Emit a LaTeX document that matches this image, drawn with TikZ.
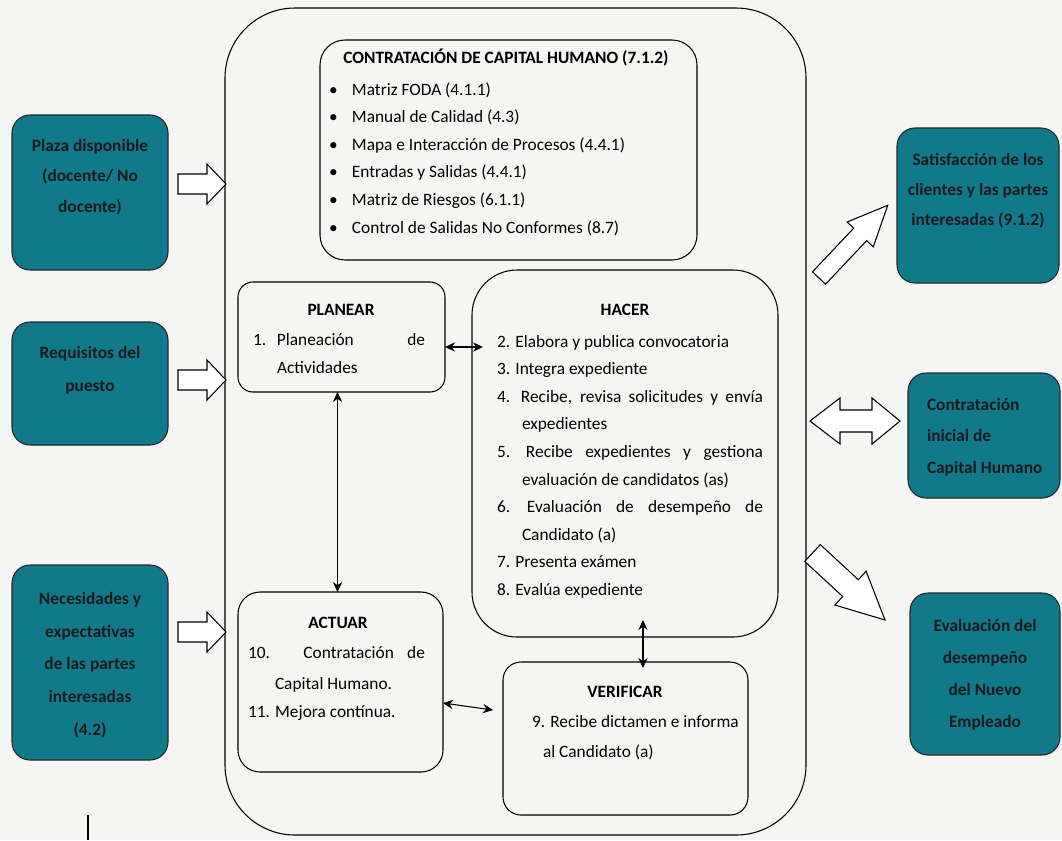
\documentclass[tikz,border=0pt]{standalone}
\usepackage{fontspec}
\setmainfont{Carlito}
\usetikzlibrary{arrows.meta,calc}
\newlength\px \setlength\px{0.75pt}
\definecolor{tealone}{RGB}{16,122,138}
\definecolor{paper}{RGB}{245,245,243}
\begin{document}
\begin{tikzpicture}[x=0.75pt,y=-0.75pt,
  every node/.style={inner sep=0pt, outer sep=0pt},
  frame/.style={draw=black, line width=0.8pt},
  tealbox/.style={draw=black!85, line width=0.8pt, fill=tealone, rounded corners=13.5pt},
  body/.style={font=\fontsize{13}{20}\selectfont, anchor=base west},
  ttl/.style={font=\fontsize{13}{20}\selectfont\bfseries, anchor=base},
  side/.style={font=\fontsize{13}{23}\selectfont\bfseries, align=center, text=black!90},
  link/.style={{Stealth[length=7.5pt,width=7pt]}-{Stealth[length=7.5pt,width=7pt]}, line width=0.8pt},
  blockarrow/.style={draw=black, line width=0.8pt, fill=white, line join=miter}
]
\useasboundingbox (0,0) rectangle (1062,840);
\fill[paper] (0,0) rectangle (1062,840);

% frames
\node[frame, rounded corners=52.5pt, minimum width=435.75pt, minimum height=620.25pt] (outer) at (515.5,421.5) {};
\node[frame, rounded corners=18.75pt, minimum width=282.75pt, minimum height=165pt] (top) at (508.5,150) {};
\node[frame, rounded corners=11.25pt, minimum width=155.25pt, minimum height=82.5pt] (planear) at (341.5,337) {};
\node[frame, rounded corners=33.75pt, minimum width=229.5pt, minimum height=275.25pt] (hacer) at (625,453.5) {};
\node[frame, rounded corners=16.5pt, minimum width=153.75pt, minimum height=135pt] (actuar) at (340.5,682) {};
\node[frame, rounded corners=13.5pt, minimum width=183.75pt, minimum height=114.75pt] (verificar) at (625.5,738.5) {};

% top box text
\node[ttl] (toptitle) at (506,63) {CONTRATACIÓN DE CAPITAL HUMANO (7.1.2)};
\foreach \t [count=\i] in {Matriz FODA (4.1.1),Manual de Calidad (4.3),Mapa e Interacción de Procesos (4.4.1),Entradas y Salidas (4.4.1),Matriz de Riesgos (6.1.1),Control de Salidas No Conformes (8.7)}{
  \node[body] (bul\i) at (329,{95+27.6*(\i-1)}) {\makebox[23\px][l]{•}\t};
}

% planear
\node[ttl] (planeart) at (341,315) {PLANEAR};
\node[body] (p1) at (253,345) {\makebox[172\px]{\makebox[24\px][l]{1.}Planeación\hfill de}};
\node[body] (p1b) at (277,373) {Actividades};

% hacer
\node[ttl] (hacert) at (625,315) {HACER};
\node[body] (h2) at (497,347) {2. Elabora y publica convocatoria};
\node[body] (h3) at (497,374.6) {3. Integra expediente};
\node[body] (h4) at (497,402.2) {\makebox[266\px][s]{\makebox[24\px][l]{4.}Recibe, revisa solicitudes y envía}};
\node[body] (h4b) at (522,429.8) {expedientes};
\node[body] (h5) at (497,457.4) {\makebox[266\px][s]{\makebox[29\px][l]{5.}Recibe expedientes y gestiona}};
\node[body] (h5b) at (522,485) {evaluación de candidatos (as)};
\node[body] (h6) at (497,512.6) {\makebox[266\px][s]{\makebox[30\px][l]{6.}Evaluación de desempeño de}};
\node[body] (h6b) at (522,540.2) {Candidato (a)};
\node[body] (h7) at (497,567.8) {7. Presenta exámen};
\node[body] (h8) at (497,595.4) {8. Evalúa expediente};

% actuar
\node[ttl] (actuart) at (338,628) {ACTUAR};
\node[body] (a10) at (248,658) {\makebox[177\px][s]{10. Contratación de}};
\node[body] (a10b) at (275,689) {Capital Humano.};
\node[body] (a11) at (248,717) {11. Mejora contínua.};

% verificar
\node[ttl] (verificart) at (625,697) {VERIFICAR};
\node[body] (v9) at (532,727) {9. Recibe dictamen e informa};
\node[body] (v9b) at (543,757) {al Candidato (a)};

% inner links
\draw[link] (planear.east |- 0,347) -- ($(hacer.west |- 0,347)+(11,0)$);
\draw[link] ($(planear.south)+(-4,0)$) -- ($(planear.south |- actuar.north)+(-4,0)$);
\draw[link] ($(hacer.south)+(18,-17)$) -- ($(verificar.north)+(17.5,6)$);
\draw[link] (actuar.east |- 0,703) -- ($(verificar.west)+(-10,-28.5)$);

% teal boxes left
\node[tealbox, minimum width=117pt, minimum height=116.25pt] (plaza) at (90,192.5) {};
\node[side] (plazat) at (90,177) {Plaza disponible\\(docente/ No\\docente)};
\node[tealbox, minimum width=117pt, minimum height=92.25pt] (requisitos) at (90,383.5) {};
\node[side, font=\fontsize{13}{24.5}\selectfont\bfseries] (requisitost) at (90,370) {Requisitos del\\puesto};
\node[tealbox, minimum width=117pt, minimum height=146.25pt] (necesidades) at (90,662.5) {};
\node[side, font=\fontsize{13}{24.5}\selectfont\bfseries] (necesidadest) at (90,665) {Necesidades y\\expectativas\\de las partes\\interesadas\\(4.2)};

% teal boxes right
\node[tealbox, minimum width=121.5pt, minimum height=116.25pt] (satisf) at (978,205.5) {};
\node[side, font=\fontsize{13}{22.5}\selectfont\bfseries] (satisft) at (978,191) {Satisfacción de los\\clientes y las partes\\interesadas (9.1.2)};
\node[tealbox, minimum width=114pt, minimum height=93.75pt] (contrat) at (984,435.5) {};
\node[side, align=left, anchor=west, font=\fontsize{13}{23.5}\selectfont\bfseries] (contratt) at (927,437) {Contratación\\inicial de\\Capital Humano};
\node[tealbox, minimum width=112.5pt, minimum height=121.5pt] (evaluac) at (985,674) {};
\node[side, font=\fontsize{13}{24}\selectfont\bfseries] (evaluact) at (985,675) {Evaluación del\\desempeño\\del Nuevo\\Empleado};

% block arrows left
\foreach \c in {184,380,632}{
  \draw[blockarrow] (178,\c-10) -- (207,\c-10) -- (207,\c-20) -- (226,\c) -- (207,\c+20) -- (207,\c+10) -- (178,\c+10) -- cycle;
}
% block arrows right
\draw[blockarrow] (812.5,271.8) -- (853.7,228.2) -- (847.1,222.0) -- (887.7,205.3) -- (873.3,246.8) -- (866.7,240.6) -- (825.5,284.2) -- cycle;
\draw[blockarrow] (810,421) -- (840,398) -- (840,410) -- (872,410) -- (872,398) -- (900,421) -- (872,444) -- (872,432) -- (840,432) -- (840,444) -- cycle;
\draw[blockarrow] (804.7,561.4) -- (842.7,596.5) -- (834.9,605.0) -- (885,620) -- (866.1,571.2) -- (858.3,579.7) -- (820.3,544.6) -- cycle;

% stray mark
\draw[line width=0.8pt] (88,815) -- (88,840);
\end{tikzpicture}
\end{document}
